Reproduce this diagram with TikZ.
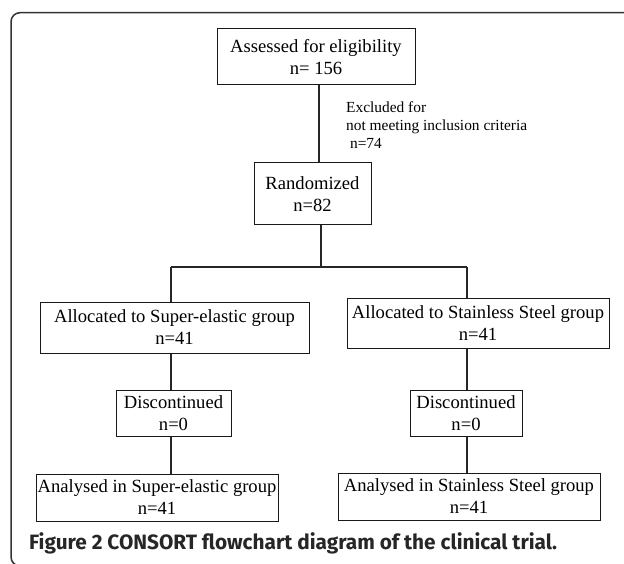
\documentclass[tikz,border=0pt]{standalone}
\usepackage{fontspec}
\usepackage{graphicx}
\setmainfont{Liberation Serif}
\newfontfamily\capfont{Fira Sans}
\begin{document}
\begin{tikzpicture}[x=1pt,y=-1pt,
  box/.style={draw=black!90, line width=1pt, inner sep=0pt, align=center,
    font=\fontsize{18.6}{22}\selectfont},
  conn/.style={draw=black!85, line width=1.2pt},
  frame/.style={draw=black!80, line width=1.5pt, rounded corners=9pt},
  note/.style={inner sep=0pt, align=left, anchor=north west,
    font=\fontsize{15.4}{18}\selectfont},
  captext/.style={inner sep=0pt, anchor=base west, text=black!85,
    font=\capfont\bfseries\fontsize{19}{22}\selectfont}]
\useasboundingbox (0,0) rectangle (624,564);
\draw[frame] (660,12.7) -- (11,12.7) -- (11,566) -- (660,566);

\node[box, minimum width=198pt, minimum height=56pt] (assess) at (316,57) {Assessed for eligibility\\n= 156};
\node[box, minimum width=117pt, minimum height=62pt] (rand) at (312.5,194) {Randomized\\n=82};
\node[note] (excl) at (346,101) {Excluded for\\not meeting inclusion criteria\\\ n=74};

\node[box, minimum width=269pt, minimum height=51pt] (allocL) at (174.5,327.5) {Allocated to Super-elastic group\\n=41};
\node[box, minimum width=262pt, minimum height=50pt] (allocR) at (478,323) {Allocated to Stainless Steel group\\n=41};
\node[box, minimum width=115pt, minimum height=46pt] (discL) at (173.5,413) {Discontinued\\n=0};
\node[box, minimum width=112pt, minimum height=46pt] (discR) at (466,413) {Discontinued\\n=0};
\node[box, minimum width=242pt, minimum height=47pt] (anaL) at (157,497.5) {Analysed in Super-elastic group\\n=41};
\node[box, minimum width=262pt, minimum height=47pt] (anaR) at (469,496.5) {Analysed in Stainless Steel group\\n=41};

\coordinate (split) at (321,267);
\coordinate (jL) at (171,267);
\coordinate (jR) at (467,267);

\draw[conn] (assess.south -| 319,0) -- (rand.north -| 319,0);
\draw[conn] (rand.south -| split) -- (split);
\draw[conn] (jL) -- (jR);
\draw[conn] (jL) -- (jL |- allocL.north);
\draw[conn] (jR) -- (jR |- allocR.north);
\draw[conn] (allocL.south -| jL) -- (discL.north -| jL);
\draw[conn] (discL.south -| jL) -- (anaL.north -| jL);
\draw[conn] (allocR.south -| jR) -- (discR.north -| jR);
\draw[conn] (discR.south -| jR) -- (anaR.north -| jR);

\node[captext] (cap) at (29,549) {\resizebox{528pt}{!}{Figure 2 CONSORT flowchart diagram of the clinical trial.}};
\end{tikzpicture}
\end{document}
